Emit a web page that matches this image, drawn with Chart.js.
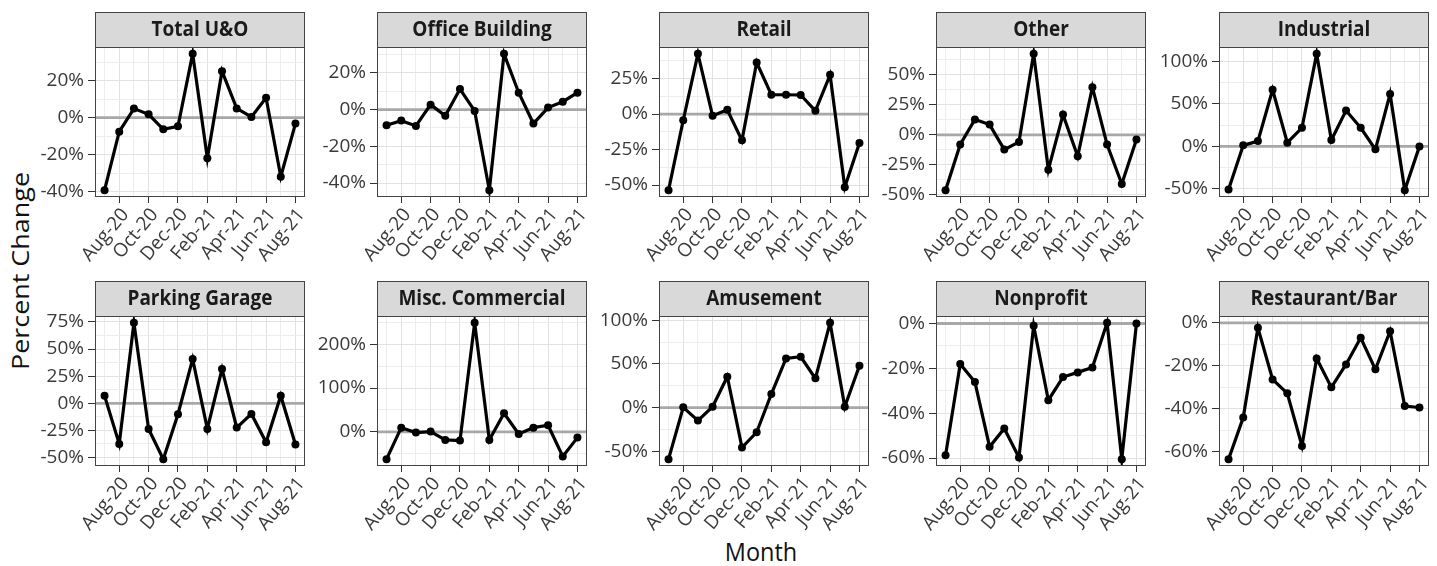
<!DOCTYPE html>
<html>
<head>
<meta charset="utf-8">
<script src="https://cdn.jsdelivr.net/npm/chart.js@4.4.1/dist/chart.umd.min.js"></script>
<style>
  html, body { margin: 0; padding: 0; background: #fff; }
  #wrap { position: relative; width: 1437px; height: 566px; overflow: hidden; font-family: "Open Sans", sans-serif; }
  #wrap canvas { position: absolute; }
  .ytitle { position: absolute; left: 20px; top: 271px; transform: translate(-50%, -50%) rotate(-90deg) scaleX(1.17);
            font-size: 23px; white-space: nowrap; color: #111; }
  .xtitle { position: absolute; left: 761px; top: 551px; transform: translate(-50%, -50%) scaleY(1.12);
            font-size: 23.5px; white-space: nowrap; color: #111; }
</style>
</head>
<body>
<div id="wrap">
  <div class="ytitle">Percent Change</div>
  <div class="xtitle">Month</div>
</div>
<script>
// Months on the x axis (Jul-20 .. Aug-21) and the ones that carry a label
const months = ['Jul-20','Aug-20','Sep-20','Oct-20','Nov-20','Dec-20','Jan-21',
                'Feb-21','Mar-21','Apr-21','May-21','Jun-21','Jul-21','Aug-21'];
const xTickLabels = ['Aug-20','Oct-20','Dec-20','Feb-21','Apr-21','Jun-21','Aug-21'];

// Facet names, in panel order
const categories = ['Total U&O','Office Building','Retail','Other','Industrial',
                    'Parking Garage','Misc. Commercial','Amusement','Nonprofit','Restaurant/Bar'];

// Month-over-month percent change per category
const totalUO        = [-39.3, -7.6, 4.9, 1.8, -6.3, -4.7, 34.6, -22.0, 25.2, 5.0, 0.4, 10.8, -32.0, -3.2];
const officeBuilding = [-8.5, -6.0, -8.9, 2.7, -3.4, 11.2, -0.7, -43.9, 30.4, 9.2, -7.6, 1.1, 4.3, 9.2];
const retail         = [-53.6, -4.4, 42.4, -1.2, 3.0, -18.5, 36.3, 13.6, 13.6, 13.4, 2.3, 27.6, -51.5, -20.4];
const other          = [-46.0, -8.0, 12.8, 8.6, -12.2, -5.8, 67.5, -28.9, 16.9, -17.8, 39.7, -8.0, -40.8, -3.9];
const industrial     = [-50.6, 1.2, 6.2, 66.5, 4.3, 21.8, 108.6, 7.4, 42.0, 21.8, -3.5, 61.5, -51.4, 0.0];
const parkingGarage  = [7.0, -37.4, 74.2, -23.6, -51.5, -10.1, 40.8, -23.6, 31.6, -22.4, -9.8, -35.9, 7.0, -38.0];
const miscCommercial = [-62.0, 9.8, -1.5, 0.8, -18.2, -19.7, 248.5, -18.2, 42.4, -4.5, 9.8, 15.2, -56.0, -12.9];
const amusement      = [-58.9, 0.4, -14.8, 1.1, 35.4, -45.6, -28.1, 15.6, 56.3, 58.2, 33.5, 97.0, 1.1, 47.9];
const nonprofit      = [-58.7, -18.1, -26.1, -55.0, -46.8, -59.7, -1.0, -34.2, -23.9, -21.8, -19.6, 0.3, -60.5, 0.0];
const restaurantBar  = [-63.6, -44.2, -2.3, -26.4, -32.9, -57.4, -16.6, -30.1, -19.4, -7.0, -21.7, -3.9, -38.8, -39.5];

// Labelled y ticks per panel
const yTicksTotalUO        = [-40, -20, 0, 20];
const yTicksOfficeBuilding = [-40, -20, 0, 20];
const yTicksRetail         = [-50, -25, 0, 25];
const yTicksOther          = [-50, -25, 0, 25, 50];
const yTicksIndustrial     = [-50, 0, 50, 100];
const yTicksParkingGarage  = [-50, -25, 0, 25, 50, 75];
const yTicksMiscCommercial = [0, 100, 200];
const yTicksAmusement      = [-50, 0, 50, 100];
const yTicksNonprofit      = [-60, -40, -20, 0];
const yTicksRestaurantBar  = [-60, -40, -20, 0];

const seriesList = [totalUO, officeBuilding, retail, other, industrial,
                    parkingGarage, miscCommercial, amusement, nonprofit, restaurantBar];
const yTickList = [yTicksTotalUO, yTicksOfficeBuilding, yTicksRetail, yTicksOther, yTicksIndustrial,
                   yTicksParkingGarage, yTicksMiscCommercial, yTicksAmusement, yTicksNonprofit, yTicksRestaurantBar];

// Facet grid geometry
const colLeft = [95, 377, 659, 936, 1219];
const rowTop = [12, 281];
const STRIP_H = 35, PLOT_W = 210, PLOT_H = 150, AXIS_W = 80, AXIS_H = 82, PAD_R = 14;
const FONT = '"Open Sans", sans-serif';
const TICK_COLOR = '#3a3a3a';

// Strip, zero reference line and panel frame
const facetPlugin = {
  id: 'facet',
  beforeDatasetsDraw(chart) {
    const { ctx, chartArea: a, scales: { y } } = chart;
    const py = y.getPixelForValue(0);
    ctx.save();
    ctx.strokeStyle = '#a8a8a8';
    ctx.lineWidth = 2.8;
    ctx.beginPath();
    ctx.moveTo(a.left, py);
    ctx.lineTo(a.right, py);
    ctx.stroke();
    ctx.restore();
  },
  afterDraw(chart, args, opts) {
    const { ctx, chartArea: a } = chart;
    ctx.save();
    ctx.fillStyle = '#d9d9d9';
    ctx.fillRect(a.left, a.top - STRIP_H, a.right - a.left, STRIP_H);
    ctx.strokeStyle = '#444';
    ctx.lineWidth = 1;
    ctx.strokeRect(a.left + 0.5, a.top - STRIP_H + 0.5, a.right - a.left - 1, STRIP_H);
    ctx.strokeRect(a.left + 0.5, a.top + 0.5, a.right - a.left - 1, a.bottom - a.top - 1);
    ctx.fillStyle = '#1a1a1a';
    ctx.font = 'bold 19px ' + FONT;
    ctx.textAlign = 'center';
    ctx.textBaseline = 'middle';
    ctx.translate((a.left + a.right) / 2, a.top - STRIP_H / 2 + 1);
    ctx.scale(1, 1.08);
    ctx.fillText(opts.name, 0, 0);
    ctx.restore();
  }
};

const wrap = document.getElementById('wrap');

categories.forEach((name, k) => {
  const values = seriesList[k];
  const major = yTickList[k];
  const lo = Math.min(0, ...values), hi = Math.max(0, ...values);
  const pad = (hi - lo) * 0.05;
  const yMin = lo - pad, yMax = hi + pad;

  // minor gridlines sit halfway between labelled ticks
  const step = major[1] - major[0];
  const yAll = [];
  for (let v = major[0] - step / 2; v <= major[major.length - 1] + step / 2 + 1e-9; v += step / 2) {
    if (v >= yMin && v <= yMax) yAll.push(v);
  }
  const isMajorY = v => major.some(m => Math.abs(m - v) < 1e-6);
  const isMajorX = i => xTickLabels.includes(months[i]);

  const col = k % 5, row = Math.floor(k / 5);
  const canvas = document.createElement('canvas');
  const cw = AXIS_W + PLOT_W + PAD_R, ch = STRIP_H + PLOT_H + AXIS_H;
  canvas.width = cw; canvas.height = ch;
  canvas.style.width = cw + 'px'; canvas.style.height = ch + 'px';
  canvas.style.left = (colLeft[col] - AXIS_W) + 'px';
  canvas.style.top = rowTop[row] + 'px';
  wrap.appendChild(canvas);

  new Chart(canvas, {
    type: 'line',
    data: {
      datasets: [{
        data: values.map((v, i) => ({ x: i, y: v })),
        borderColor: '#000',
        borderWidth: 3.2,
        pointRadius: 4,
        pointBackgroundColor: '#000',
        pointBorderColor: '#000',
        pointBorderWidth: 0,
        tension: 0
      }]
    },
    options: {
      responsive: false,
      animation: false,
      devicePixelRatio: 1,
      layout: { padding: { top: STRIP_H, right: PAD_R, left: 0, bottom: 0 } },
      plugins: {
        legend: { display: false },
        tooltip: { enabled: false },
        facet: { name }
      },
      scales: {
        x: {
          type: 'linear',
          min: -0.65,
          max: 13.65,
          afterBuildTicks: s => { s.ticks = months.map((m, i) => ({ value: i })); },
          afterFit: s => { s.height = AXIS_H; },
          border: { display: false },
          grid: {
            color: c => isMajorX(c.tick.value) ? '#e2e2e2' : '#ededed',
            lineWidth: 1,
            drawTicks: true,
            tickLength: 6,
            tickColor: c => isMajorX(c.tick.value) ? '#333' : 'rgba(0,0,0,0)'
          },
          ticks: {
            autoSkip: false,
            minRotation: 50,
            maxRotation: 50,
            padding: 1,
            labelOffset: 6,
            color: TICK_COLOR,
            font: { family: FONT, size: 19 },
            callback: v => isMajorX(v) ? months[v] : ''
          }
        },
        y: {
          min: yMin,
          max: yMax,
          afterBuildTicks: s => { s.ticks = yAll.map(v => ({ value: v })); },
          afterFit: s => { s.width = AXIS_W; },
          border: { display: false },
          grid: {
            color: c => isMajorY(c.tick.value) ? '#e2e2e2' : '#ededed',
            lineWidth: 1,
            drawTicks: true,
            tickLength: 7,
            tickColor: c => isMajorY(c.tick.value) ? '#333' : 'rgba(0,0,0,0)'
          },
          ticks: {
            autoSkip: false,
            padding: 4,
            color: TICK_COLOR,
            font: { family: FONT, size: 19 },
            callback: v => isMajorY(v) ? Math.round(v) + '%' : ''
          }
        }
      }
    },
    plugins: [facetPlugin]
  });
});
</script>
</body>
</html>
